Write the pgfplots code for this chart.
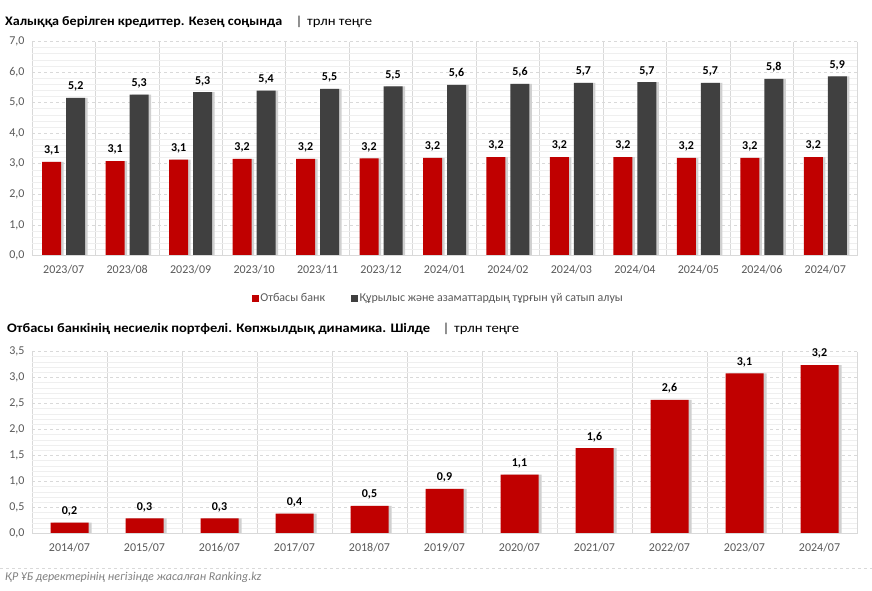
\documentclass[border=0pt]{standalone}
\usepackage{pgfplots}
\pgfplotsset{compat=1.18}
\usepackage{fontspec}
\setmainfont{Carlito}
\definecolor{cred}{HTML}{C00000}
\definecolor{cdark}{HTML}{404040}
\definecolor{ctick}{HTML}{595959}
\definecolor{gmaj}{HTML}{D9D9D9}
\definecolor{gmin}{HTML}{EFEFEF}
\definecolor{cfoot}{HTML}{7F7F7F}
\definecolor{cshadow}{HTML}{D0D0D0}

\pgfplotstableread{
x red dark
0 3.06 5.16
1 3.09 5.26
2 3.14 5.34
3 3.16 5.39
4 3.16 5.45
5 3.18 5.53
6 3.19 5.58
7 3.22 5.61
8 3.22 5.65
9 3.22 5.67
10 3.19 5.65
11 3.19 5.78
12 3.22 5.86
}\tabtop

\pgfplotstableread{
x val
0 0.21
1 0.29
2 0.29
3 0.38
4 0.53
5 0.86
6 1.13
7 1.64
8 2.57
9 3.08
10 3.24
}\tabbot

\pgfplotsset{
  mystyle/.style={
    scale only axis, anchor=south west,
    width=825pt,
    axis line style={draw=none},
    major tick length=0pt, minor tick length=0pt,
    ymajorgrids, yminorgrids, xminorgrids,
    major y grid style={dashed, color=gmaj, line width=0.6pt},
    minor y grid style={color=gmin, line width=0.6pt},
    minor x grid style={color=gmaj, line width=0.8pt},
    minor y tick num=4,
    tick label style={font=\fontsize{12}{12}\selectfont, color=ctick},
    /pgf/number format/fixed,
    /pgf/number format/fixed zerofill,
    /pgf/number format/precision=1,
    /pgf/number format/use comma,
    /pgf/number format/assume math mode=true,
    yticklabel style={xshift=-4pt},
    xticklabel style={yshift=-6pt},
  },
  lbl/.style={nodes near coords,
    nodes near coords style={font=\bfseries\fontsize{12}{12}\selectfont, color=black, anchor=south, yshift=3pt}},
}

\newcommand{\fitw}[2]{\resizebox{#1}{\height}{#2}}

\begin{document}
\begin{tikzpicture}
\useasboundingbox (0pt,0pt) rectangle (872pt,590pt);
\fill[white] (0pt,0pt) rectangle (872pt,590pt);

% title 1
\begin{scope}[every node/.style={inner sep=0pt, font=\fontsize{13}{13}\selectfont}]
\node[anchor=base west] at (5pt,564.5pt) {\fitw{277pt}{\textbf{Халыққа берілген кредиттер. Кезең соңында}}};
\node[anchor=base] at (299pt,564.5pt) {|};
\node[anchor=base west] at (307pt,564.5pt) {\fitw{65pt}{трлн теңге}};
% title 2
\node[anchor=base west] at (7pt,257.5pt) {\fitw{423pt}{\textbf{Отбасы банкінің несиелік портфелі. Көпжылдық динамика. Шілде}}};
\node[anchor=base] at (446pt,257.5pt) {|};
\node[anchor=base west] at (454pt,257.5pt) {\fitw{65pt}{трлн теңге}};
\end{scope}

\begin{axis}[mystyle,
  at={(32pt,334.5pt)}, height=214pt,
  xmin=-0.5, xmax=12.5, ymin=0, ymax=7,
  ytick={0,1,...,7},
  xtick={0,...,12},
  xticklabels={2023/07,2023/08,2023/09,2023/10,2023/11,2023/12,2024/01,2024/02,2024/03,2024/04,2024/05,2024/06,2024/07},
  minor xtick={-0.5,0.5,...,12.5},
  ybar, bar width=19pt,
  legend style={at={(0.4927,-0.199)}, anchor=center, draw=none, fill=none,
    legend columns=2, font=\fontsize{12}{12}\selectfont, text=ctick,
    /tikz/every even column/.append style={column sep=24pt}},
  legend cell align=left,
]
\addlegendimage{area legend, legend image code/.code={\fill[cred] (0pt,-3pt) rectangle (6pt,3pt);}}
\addlegendentry{Отбасы банк}
\addlegendimage{area legend, legend image code/.code={\fill[cdark] (0pt,-3pt) rectangle (6pt,3pt);}}
\addlegendentry{Құрылыс және азаматтардың тұрғын үй сатып алуы}
\addplot[fill=cshadow, draw=none, bar shift=-9.5pt, forget plot] table[x=x, y=red] {\tabtop};
\addplot[fill=cshadow, draw=none, bar shift=14.5pt, forget plot] table[x=x, y=dark] {\tabtop};
\addplot[fill=cred, draw=none, bar shift=-12pt, lbl, forget plot] table[x=x, y=red] {\tabtop};
\addplot[fill=cdark, draw=none, bar shift=12pt, lbl, forget plot] table[x=x, y=dark] {\tabtop};
\draw[gmaj, line width=0.8pt] (rel axis cs:0,0) -- (rel axis cs:1,0);
\end{axis}

\begin{axis}[mystyle,
  at={(32pt,56.5pt)}, height=182pt,
  xmin=-0.5, xmax=10.5, ymin=0, ymax=3.5,
  ytick={0,0.5,...,3.5},
  xtick={0,...,10},
  xticklabels={2014/07,2015/07,2016/07,2017/07,2018/07,2019/07,2020/07,2021/07,2022/07,2023/07,2024/07},
  minor xtick={-0.5,0.5,...,10.5},
  ybar, bar width=38pt,
]
\addplot[fill=cshadow, draw=none, bar shift=3pt] table[x=x, y=val] {\tabbot};
\addplot[fill=cred, draw=none, bar shift=0pt, lbl] table[x=x, y=val] {\tabbot};
\draw[gmaj, line width=0.8pt] (rel axis cs:0,0) -- (rel axis cs:1,0);
\end{axis}

\draw[gmaj, dashed, line width=0.8pt] (0pt,22pt) -- (872pt,22pt);
\node[anchor=base west, inner sep=0pt, font=\itshape\fontsize{12}{12}\selectfont, text=cfoot] at (5pt,10pt)
  {ҚР ҰБ деректерінің негізінде жасалған Ranking.kz};
\end{tikzpicture}
\end{document}
